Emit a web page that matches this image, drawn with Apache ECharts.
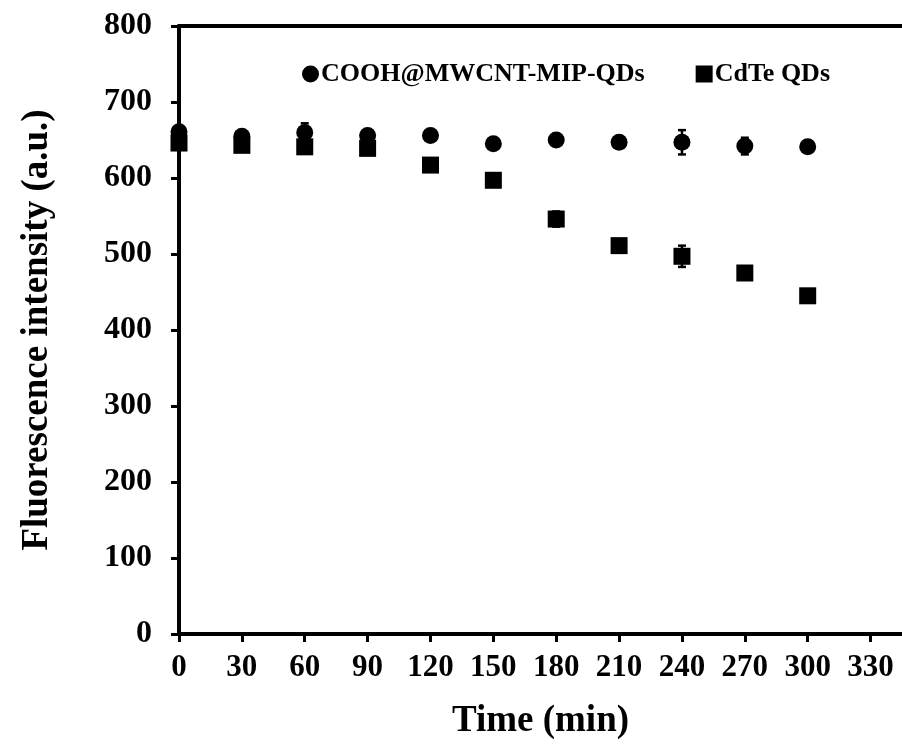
<!DOCTYPE html>
<html>
<head>
  <meta charset="UTF-8">
  <script src="https://cdnjs.cloudflare.com/ajax/libs/echarts/6.0.0/echarts.min.js"></script>
  <title></title>
  <style>
    body { margin: 0; background: #fff; }
    #chart { width: 902px; height: 746px; }
  </style>
</head>
<body>
  <div id="chart"></div>
  <script>
    // values
    const timeMin = [0, 30, 60, 90, 120, 150, 180, 210, 240, 270, 300];
    const mipMean = [661, 655, 660, 656, 656, 645, 650, 647, 647, 642, 641];
    const mipErr  = [5, 4, 12, 4, 3, 3, 4, 3, 16, 11, 6];
    const cdteMean = [646, 643, 641, 639, 617, 597, 546, 511, 497, 475, 445];
    const cdteErr  = [5, 4, 7, 4, 3, 3, 10, 3, 14, 4, 3];
    const xTicks = [0, 30, 60, 90, 120, 150, 180, 210, 240, 270, 300, 330];

    const font = 'Liberation Serif';

    function pairs(xs, ys) {
      return xs.map((x, i) => [x, ys[i]]);
    }
    function errData(xs, ys, es) {
      return xs.map((x, i) => [x, ys[i] - es[i], ys[i] + es[i]]);
    }
    function errBars(params, api) {
      let lo = api.coord([api.value(0), api.value(1)]);
      let hi = api.coord([api.value(0), api.value(2)]);
      let w = 4;
      let st = { stroke: '#000', lineWidth: 2.5 };
      return {
        type: 'group',
        children: [
          { type: 'line', shape: { x1: lo[0], y1: lo[1], x2: hi[0], y2: hi[1] }, style: st },
          { type: 'line', shape: { x1: lo[0] - w, y1: lo[1], x2: lo[0] + w, y2: lo[1] }, style: st },
          { type: 'line', shape: { x1: hi[0] - w, y1: hi[1], x2: hi[0] + w, y2: hi[1] }, style: st }
        ]
      };
    }

    let chart = echarts.init(document.getElementById('chart'));
    chart.setOption({
      animation: false,
      backgroundColor: '#fff',
      grid: { left: 179, right: 0, top: 26, bottom: 112 },
      legend: {
        left: 297, top: 56,
        itemWidth: 17, itemHeight: 17, itemGap: 51,
        itemStyle: { opacity: 1 },
        textStyle: { fontFamily: font, fontWeight: 'bold', fontSize: 26, color: '#000', padding: [0, 0, 0, -3] },
        data: [
          { name: 'COOH@MWCNT-MIP-QDs', icon: 'circle' },
          { name: 'CdTe QDs', icon: 'rect' }
        ]
      },
      xAxis: [{
        type: 'value', min: 0, max: 345, interval: 30,
        name: 'Time (min)', nameLocation: 'middle', nameGap: 69,
        nameTextStyle: { fontFamily: font, fontWeight: 'bold', fontSize: 37, color: '#000' },
        axisLine: { show: true, onZero: false, lineStyle: { color: '#000', width: 4 } },
        axisTick: { show: true, length: 8, customValues: xTicks, lineStyle: { color: '#000', width: 3 } },
        axisLabel: { customValues: xTicks, margin: 18, fontFamily: font, fontWeight: 'bold', fontSize: 31, color: '#000' },
        splitLine: { show: false }
      }, {
        type: 'value', min: 0, max: 345, position: 'top',
        axisLine: { show: true, onZero: false, lineStyle: { color: '#000', width: 4 } },
        axisTick: { show: false }, axisLabel: { show: false }, splitLine: { show: false }
      }],
      yAxis: {
        type: 'value', min: 0, max: 800, interval: 100,
        name: 'Fluorescence intensity (a.u.)', nameLocation: 'middle', nameGap: 123,
        nameTextStyle: { fontFamily: font, fontWeight: 'bold', fontSize: 37, color: '#000' },
        axisLine: { show: true, onZero: false, lineStyle: { color: '#000', width: 4 } },
        axisTick: { show: true, length: 8, lineStyle: { color: '#000', width: 3 } },
        axisLabel: { margin: 27, fontFamily: font, fontWeight: 'bold', fontSize: 32, color: '#000' },
        splitLine: { show: false }
      },
      series: [{
        name: 'CdTe QDs', type: 'scatter', symbol: 'rect', symbolSize: 17,
        itemStyle: { color: '#000', opacity: 1 }, data: pairs(timeMin, cdteMean), z: 3
      }, {
        name: 'COOH@MWCNT-MIP-QDs', type: 'scatter', symbol: 'circle', symbolSize: 17,
        itemStyle: { color: '#000', opacity: 1 }, data: pairs(timeMin, mipMean), z: 4
      }, {
        type: 'custom', renderItem: errBars, data: errData(timeMin, cdteMean, cdteErr), z: 2, silent: true
      }, {
        type: 'custom', renderItem: errBars, data: errData(timeMin, mipMean, mipErr), z: 2, silent: true
      }]
    });
  </script>
</body>
</html>
